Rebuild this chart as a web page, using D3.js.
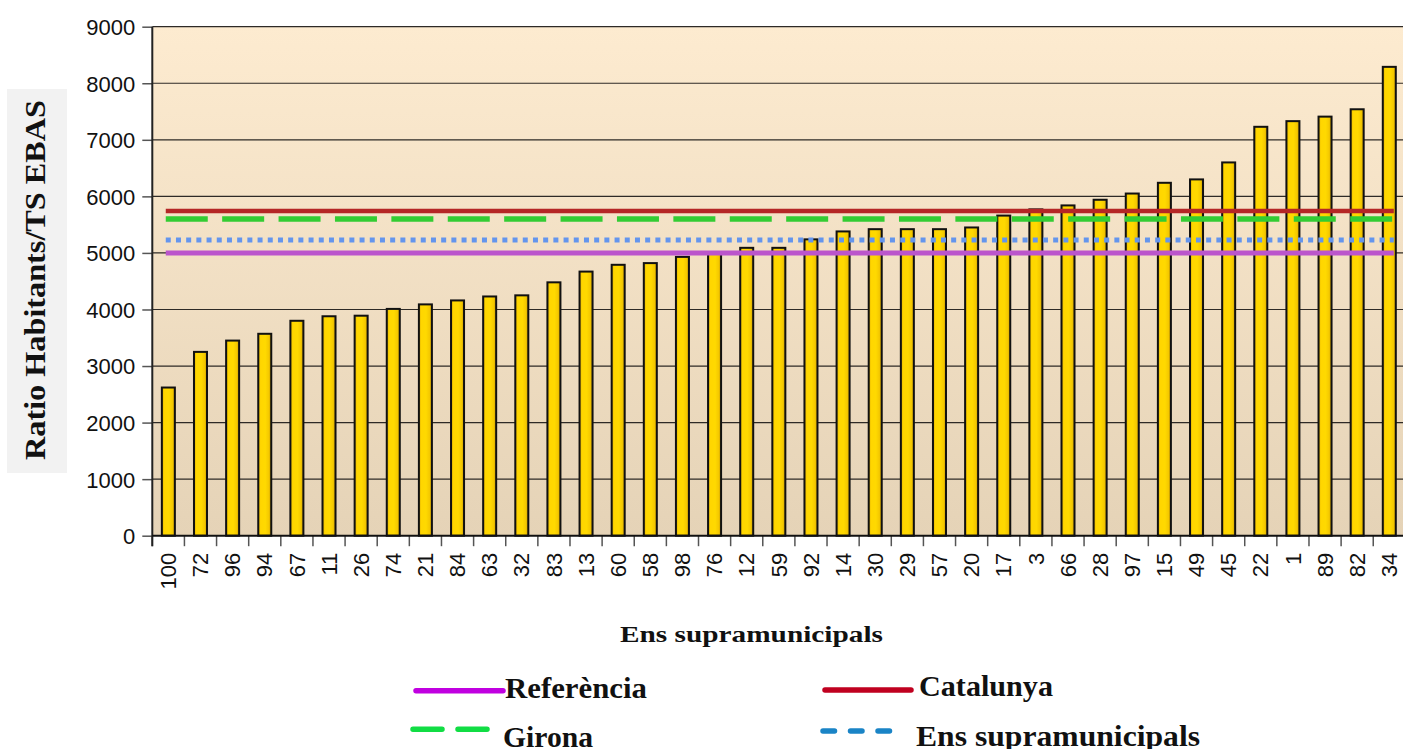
<!DOCTYPE html>
<html>
<head>
<meta charset="utf-8">
<script src="https://cdn.jsdelivr.net/npm/d3@7"></script>
<style>
  html, body { margin: 0; padding: 0; background: #ffffff; }
  svg { display: block; }
</style>
</head>
<body>
<script>
// ---------- DATA ----------
const categories = ["100","72","96","94","67","11","26","74","21","84","63","32","83","13","60","58","98","76","12","59","92","14","30","29","57","20","17","3","66","28","97","15","49","45","22","1","89","82","34"];
const values = [2620,3250,3450,3570,3800,3880,3890,4010,4090,4160,4230,4250,4480,4670,4790,4820,4930,4990,5090,5090,5240,5380,5420,5420,5420,5450,5660,5770,5840,5940,6050,6240,6300,6600,7230,7330,7410,7540,8290];
const lineNames = ["Referència", "Catalunya", "Girona", "Ens supramunicipals"];
const lineValues = [5000, 5740, 5600, 5230];
const yTickValues = [0,1000,2000,3000,4000,5000,6000,7000,8000,9000];
const yTitle = "Ratio Habitants/TS EBAS";
const xTitle = "Ens supramunicipals";

// ---------- STYLE ----------
const W = 1403, H = 749;
const plot = { left: 152.3, top: 26.7, bottom: 535.7, right: 152.3 + 39 * 32.13 };
const lineStyles = {
  "Referència":          { plot: "#bb55cc", legend: "#c000e0", width: 5,   dash: null,       legendDash: null },
  "Catalunya":           { plot: "#b52626", legend: "#c0001f", width: 4.5, dash: null,       legendDash: null },
  "Girona":              { plot: "#33cc33", legend: "#11dd44", width: 5.5, dash: "42,14.4",  legendDash: "29,16" },
  "Ens supramunicipals": { plot: "#6495ed", legend: "#1a84c6", width: 5,   dash: "5,5.2",    legendDash: "11.5,16" }
};
const drawOrder = ["Catalunya", "Girona", "Ens supramunicipals", "Referència"];

const svg = d3.select("body").append("svg").attr("width", W).attr("height", H);
const defs = svg.append("defs");

const bg = defs.append("linearGradient").attr("id", "bg").attr("x1", 0).attr("y1", 0).attr("x2", 0).attr("y2", 1);
bg.append("stop").attr("offset", "0%").attr("stop-color", "#fdebd0");
bg.append("stop").attr("offset", "100%").attr("stop-color", "#e5d3b7");

const bar = defs.append("linearGradient").attr("id", "bar").attr("x1", 0).attr("y1", 0).attr("x2", 1).attr("y2", 0);
[["0%","#d9a900"],["18%","#ffd600"],["55%","#ffd900"],["82%","#f4c800"],["100%","#c39500"]]
  .forEach(([o,c]) => bar.append("stop").attr("offset", o).attr("stop-color", c));

// ---------- SCALES ----------
const x = d3.scaleBand().domain(categories).range([plot.left, plot.right]).paddingInner(0.595).paddingOuter(0.2975);
const y = d3.scaleLinear().domain([0, 9000]).range([plot.bottom, plot.top]);
const step = x.step();

// plot background
svg.append("rect")
  .attr("x", plot.left).attr("y", plot.top)
  .attr("width", W - plot.left).attr("height", plot.bottom - plot.top)
  .attr("fill", "url(#bg)");

// gridlines
svg.append("g").selectAll("line").data(yTickValues.filter(d => d > 0)).join("line")
  .attr("x1", plot.left).attr("x2", W)
  .attr("y1", d => y(d)).attr("y2", d => y(d))
  .attr("stroke", "#2e2a26").attr("stroke-width", 1.2);

// Y axis
const yAxis = d3.axisLeft(y).tickValues(yTickValues).tickSize(10).tickPadding(7).tickFormat(d3.format("d"));
const yg = svg.append("g").attr("transform", `translate(${plot.left},0)`).call(yAxis);
yg.select(".domain").remove();
yg.selectAll(".tick line").attr("stroke", "#555").attr("stroke-width", 1.5);
yg.selectAll(".tick text").attr("font-family", "Liberation Sans, Arial, sans-serif").attr("font-size", 22).attr("fill", "#111").attr("dy", "0.36em");

// X axis
const xAxis = d3.axisBottom(x).tickSize(0).tickPadding(0);
const xg = svg.append("g").attr("transform", `translate(0,${plot.bottom})`).call(xAxis);
xg.select(".domain").remove();
xg.selectAll(".tick text")
  .attr("font-family", "Liberation Sans, Arial, sans-serif").attr("font-size", 22).attr("fill", "#111")
  .attr("transform", "translate(0,17) rotate(-90)")
  .attr("text-anchor", "end").attr("x", 0).attr("y", 0).attr("dy", "0.35em");
// band boundary ticks
svg.append("g").selectAll("line").data(categories).join("line")
  .attr("x1", d => x(d) - x.paddingOuter() * step * 0 - (step - x.bandwidth()) / 2)
  .attr("x2", d => x(d) - (step - x.bandwidth()) / 2)
  .attr("y1", plot.bottom).attr("y2", plot.bottom + 10.5)
  .attr("stroke", "#555").attr("stroke-width", 1.5);

// bars
svg.append("g").selectAll("rect").data(values).join("rect")
  .attr("x", (d, i) => x(categories[i]))
  .attr("y", d => y(d))
  .attr("width", x.bandwidth())
  .attr("height", d => y(0) - y(d))
  .attr("fill", "url(#bar)")
  .attr("stroke", "#111").attr("stroke-width", 2);

// axis lines
svg.append("line").attr("x1", plot.left).attr("x2", plot.left).attr("y1", plot.top).attr("y2", plot.bottom + 10.5)
  .attr("stroke", "#222").attr("stroke-width", 2);
svg.append("line").attr("x1", plot.left).attr("x2", W).attr("y1", plot.bottom).attr("y2", plot.bottom)
  .attr("stroke", "#111").attr("stroke-width", 2);

// reference lines
const lx1 = x(categories[0]) + x.bandwidth() / 2 - 2.6;
const lx2 = x(categories[categories.length - 1]) + x.bandwidth() / 2 + 4.5;
svg.append("g").selectAll("line").data(drawOrder).join("line")
  .attr("x1", lx1).attr("x2", lx2)
  .attr("y1", n => y(lineValues[lineNames.indexOf(n)]))
  .attr("y2", n => y(lineValues[lineNames.indexOf(n)]))
  .attr("stroke", n => lineStyles[n].plot)
  .attr("stroke-width", n => lineStyles[n].width)
  .attr("stroke-dasharray", n => lineStyles[n].dash);

// Y title
svg.append("rect").attr("x", 7).attr("y", 89).attr("width", 60).attr("height", 384).attr("fill", "#f2f2f2");
svg.append("text")
  .attr("transform", "translate(45,280) rotate(-90)")
  .attr("text-anchor", "middle")
  .attr("font-family", "Liberation Serif, Times New Roman, serif").attr("font-weight", "bold")
  .attr("font-size", 30).attr("fill", "#111")
  .attr("textLength", 360).attr("lengthAdjust", "spacingAndGlyphs")
  .text(yTitle);

// X title
svg.append("text")
  .attr("x", 751.5).attr("y", 641.5).attr("text-anchor", "middle")
  .attr("font-family", "Liberation Serif, Times New Roman, serif").attr("font-weight", "bold")
  .attr("font-size", 23).attr("fill", "#111")
  .attr("textLength", 263).attr("lengthAdjust", "spacingAndGlyphs")
  .text(xTitle);

// legend
const legendPos = {
  "Referència":          { lx1: 416, lx2: 503, ly: 690.7, tx: 505, ty: 698, tl: 142 },
  "Catalunya":           { lx1: 825, lx2: 911, ly: 690,   tx: 919, ty: 696, tl: 134 },
  "Girona":              { lx1: 413, lx2: 491, ly: 729.3, tx: 503, ty: 747, tl: 90 },
  "Ens supramunicipals": { lx1: 823, lx2: 896, ly: 731,   tx: 916, ty: 746, tl: 284 }
};
const lg = svg.append("g").selectAll("g").data(lineNames).join("g");
lg.append("line")
  .attr("x1", n => legendPos[n].lx1).attr("x2", n => legendPos[n].lx2)
  .attr("y1", n => legendPos[n].ly).attr("y2", n => legendPos[n].ly)
  .attr("stroke", n => lineStyles[n].legend)
  .attr("stroke-width", 5.5).attr("stroke-linecap", "round")
  .attr("stroke-dasharray", n => lineStyles[n].legendDash);
lg.append("text")
  .attr("x", n => legendPos[n].tx).attr("y", n => legendPos[n].ty)
  .attr("font-family", "Liberation Serif, Times New Roman, serif").attr("font-weight", "bold")
  .attr("font-size", 29).attr("fill", "#111")
  .attr("textLength", n => legendPos[n].tl).attr("lengthAdjust", "spacingAndGlyphs")
  .text(n => n);
</script>
</body>
</html>
